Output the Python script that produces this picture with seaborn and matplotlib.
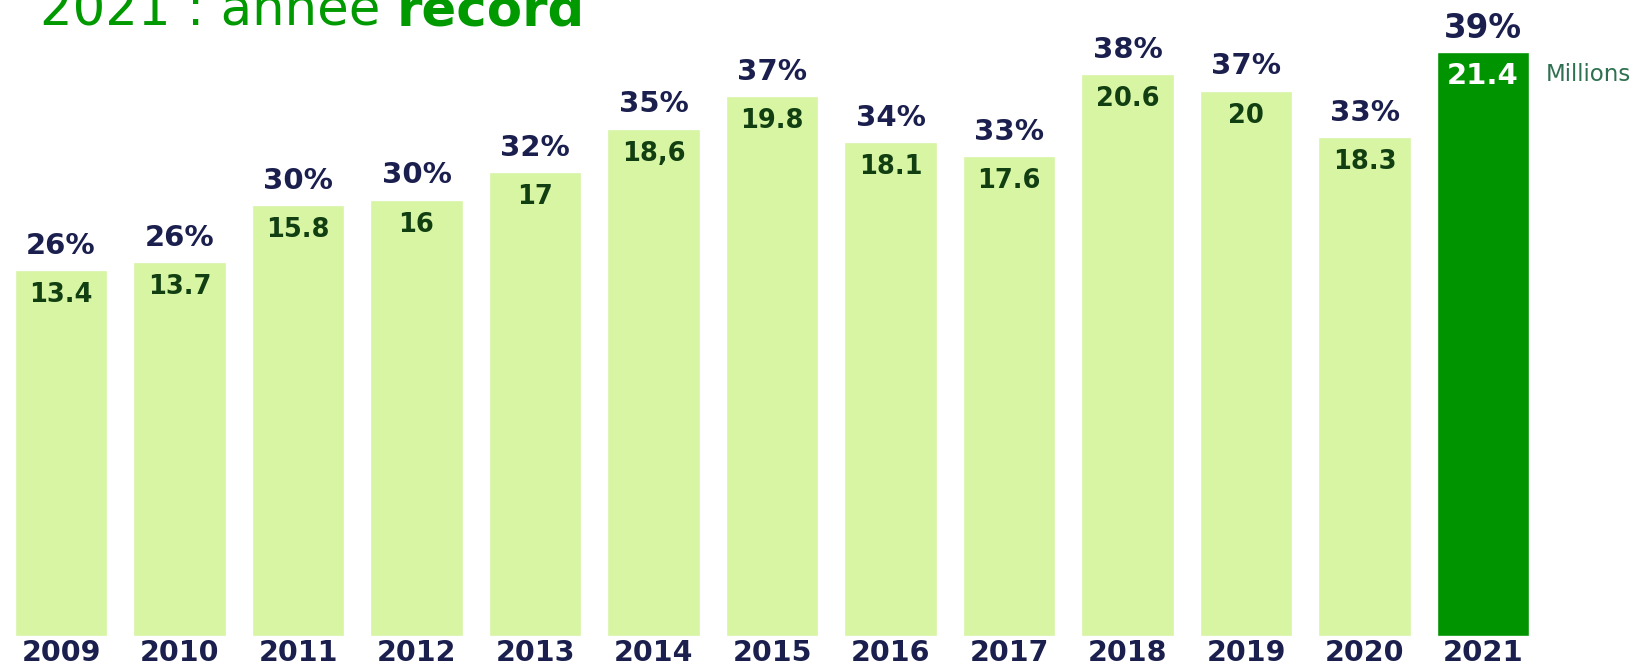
import matplotlib
matplotlib.use("Agg")
import matplotlib.pyplot as plt
import seaborn as sns
import pandas as pd

years = ["2009", "2010", "2011", "2012", "2013", "2014", "2015",
         "2016", "2017", "2018", "2019", "2020", "2021"]
millions = [13.4, 13.7, 15.8, 16, 17, 18.6, 19.8, 18.1, 17.6, 20.6, 20, 18.3, 21.4]
value_labels = ["13.4", "13.7", "15.8", "16", "17", "18,6", "19.8",
                "18.1", "17.6", "20.6", "20", "18.3", "21.4"]
pct_labels = ["26%", "26%", "30%", "30%", "32%", "35%", "37%",
              "34%", "33%", "38%", "37%", "33%", "39%"]

LIGHT = "#d7f5a3"
DARK = "#009400"
NAVY = "#1b1f4e"
DKGREEN = "#123f12"

sns.set_theme(style="white")
plt.rcParams["font.family"] = ["DejaVu Sans"]

df = pd.DataFrame({"year": years, "value": millions})
palette = {y: (DARK if y == "2021" else LIGHT) for y in years}

fig = plt.figure(figsize=(16.41, 6.67), dpi=100)
ax = fig.add_axes([0, 31.3 / 667, 1, 635.7 / 667])
sns.barplot(data=df, x="year", y="value", hue="year", palette=palette,
            legend=False, width=0.78, saturation=1, ax=ax)

ax.set_xlim(-0.515, 13.333)
ax.set_ylim(0, 23.32)
for s in ax.spines.values():
    s.set_visible(False)
ax.set_yticks([])
ax.set_xlabel("")
ax.set_ylabel("")
ax.tick_params(axis="x", length=0, pad=2.5)
for lbl in ax.get_xticklabels():
    lbl.set_color(NAVY)
    lbl.set_fontweight("bold")
    lbl.set_fontsize(21 if lbl.get_text() == "2021" else 20.5)

for i, (v, vl, pl) in enumerate(zip(millions, value_labels, pct_labels)):
    last = years[i] == "2021"
    ax.annotate(pl, xy=(i, v), xytext=(0, 17.5), textcoords="offset points",
                ha="center", va="center", fontsize=23.5 if last else 21,
                fontweight="bold", color=NAVY)
    ax.annotate(vl, xy=(i, v), xytext=(0, -17 if last else -18),
                textcoords="offset points", ha="center", va="center",
                fontsize=21 if last else 18.5, fontweight="bold",
                color="white" if last else DKGREEN)

ax.text(12.53, 20.57, "Millions", ha="left", va="center", fontsize=16.5,
        color="#2f7050")

t1 = fig.text(40 / 1641, 1 - 26 / 667, "2021 : année ", fontsize=37,
              color="#009900", ha="left", va="baseline")
fig.canvas.draw()
ax.annotate("record", xy=(1, 0), xycoords=t1, ha="left", va="bottom",
            fontsize=37, fontweight="bold", color="#009900",
            annotation_clip=False)

fig.savefig("out.png", dpi=100)
